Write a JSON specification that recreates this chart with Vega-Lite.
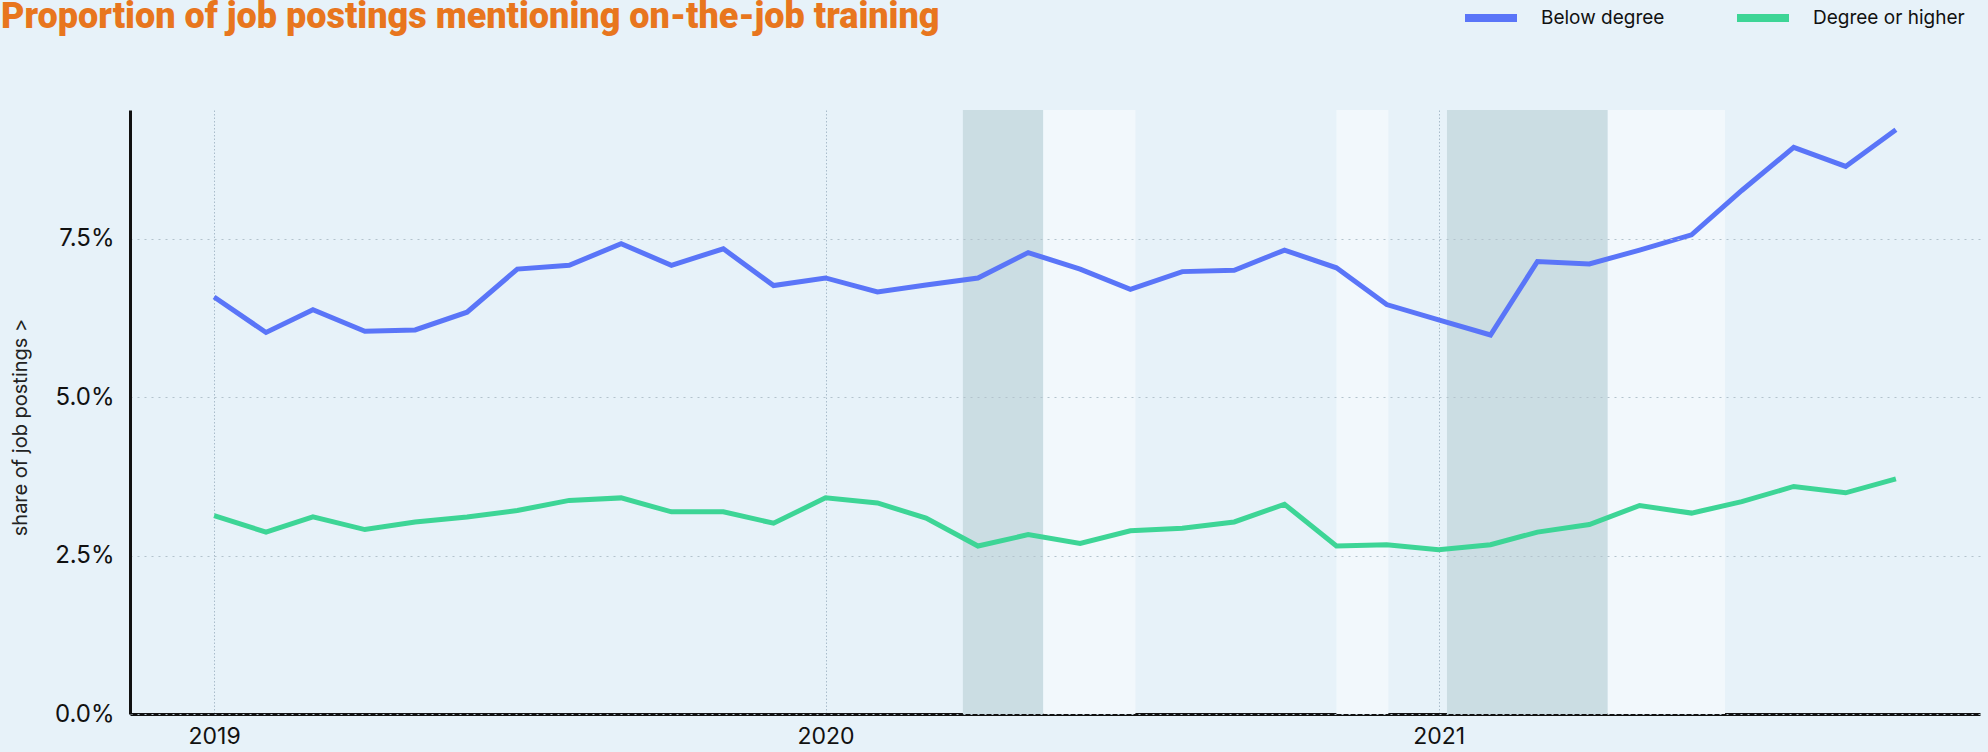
{
  "$schema": "https://vega.github.io/schema/vega-lite/v6.json",
  "width": 1850,
  "height": 604,
  "autosize": {"type": "none"},
  "padding": {"left": 130, "top": 110, "right": 8, "bottom": 38},
  "background": "#E7F2F9",
  "title": {
    "text": "Proportion of job postings mentioning on-the-job training",
    "anchor": "start",
    "frame": "group",
    "font": "Roboto",
    "fontWeight": 900,
    "fontSize": 36,
    "color": "#E8761E",
    "baseline": "alphabetic",
    "dx": -129,
    "offset": -76
  },
  "config": {
    "view": {"stroke": null},
    "font": "Inter"
  },
  "datasets": {
    "bands": [
      {"start": "2020-03-23T00:00:00", "end": "2020-05-10T00:00:00", "kind": "dark"},
      {"start": "2020-05-10T00:00:00", "end": "2020-07-04T00:00:00", "kind": "light"},
      {"start": "2020-11-01T00:00:00", "end": "2020-12-02T00:00:00", "kind": "light"},
      {"start": "2021-01-06T00:00:00", "end": "2021-04-12T00:00:00", "kind": "dark"},
      {"start": "2021-04-12T00:00:00", "end": "2021-06-21T00:00:00", "kind": "light"}
    ],
    "series": [
      {"date": "2019-01-01T00:00:00", "series": "Below degree", "value": 6.58},
      {"date": "2019-02-01T00:00:00", "series": "Below degree", "value": 6.02},
      {"date": "2019-03-01T00:00:00", "series": "Below degree", "value": 6.38},
      {"date": "2019-04-01T00:00:00", "series": "Below degree", "value": 6.04},
      {"date": "2019-05-01T00:00:00", "series": "Below degree", "value": 6.06},
      {"date": "2019-06-01T00:00:00", "series": "Below degree", "value": 6.34},
      {"date": "2019-07-01T00:00:00", "series": "Below degree", "value": 7.02},
      {"date": "2019-08-01T00:00:00", "series": "Below degree", "value": 7.08},
      {"date": "2019-09-01T00:00:00", "series": "Below degree", "value": 7.42},
      {"date": "2019-10-01T00:00:00", "series": "Below degree", "value": 7.08},
      {"date": "2019-11-01T00:00:00", "series": "Below degree", "value": 7.34},
      {"date": "2019-12-01T00:00:00", "series": "Below degree", "value": 6.76},
      {"date": "2020-01-01T00:00:00", "series": "Below degree", "value": 6.88},
      {"date": "2020-02-01T00:00:00", "series": "Below degree", "value": 6.66},
      {"date": "2020-03-01T00:00:00", "series": "Below degree", "value": 6.77},
      {"date": "2020-04-01T00:00:00", "series": "Below degree", "value": 6.88},
      {"date": "2020-05-01T00:00:00", "series": "Below degree", "value": 7.28},
      {"date": "2020-06-01T00:00:00", "series": "Below degree", "value": 7.02},
      {"date": "2020-07-01T00:00:00", "series": "Below degree", "value": 6.70},
      {"date": "2020-08-01T00:00:00", "series": "Below degree", "value": 6.98},
      {"date": "2020-09-01T00:00:00", "series": "Below degree", "value": 7.00},
      {"date": "2020-10-01T00:00:00", "series": "Below degree", "value": 7.32},
      {"date": "2020-11-01T00:00:00", "series": "Below degree", "value": 7.04},
      {"date": "2020-12-01T00:00:00", "series": "Below degree", "value": 6.46},
      {"date": "2021-01-01T00:00:00", "series": "Below degree", "value": 6.22},
      {"date": "2021-02-01T00:00:00", "series": "Below degree", "value": 5.98},
      {"date": "2021-03-01T00:00:00", "series": "Below degree", "value": 7.14},
      {"date": "2021-04-01T00:00:00", "series": "Below degree", "value": 7.10},
      {"date": "2021-05-01T00:00:00", "series": "Below degree", "value": 7.32},
      {"date": "2021-06-01T00:00:00", "series": "Below degree", "value": 7.56},
      {"date": "2021-07-01T00:00:00", "series": "Below degree", "value": 8.26},
      {"date": "2021-08-01T00:00:00", "series": "Below degree", "value": 8.94},
      {"date": "2021-09-01T00:00:00", "series": "Below degree", "value": 8.64},
      {"date": "2021-10-01T00:00:00", "series": "Below degree", "value": 9.22},
      {"date": "2019-01-01T00:00:00", "series": "Degree or higher", "value": 3.13},
      {"date": "2019-02-01T00:00:00", "series": "Degree or higher", "value": 2.87},
      {"date": "2019-03-01T00:00:00", "series": "Degree or higher", "value": 3.11},
      {"date": "2019-04-01T00:00:00", "series": "Degree or higher", "value": 2.91},
      {"date": "2019-05-01T00:00:00", "series": "Degree or higher", "value": 3.03},
      {"date": "2019-06-01T00:00:00", "series": "Degree or higher", "value": 3.11},
      {"date": "2019-07-01T00:00:00", "series": "Degree or higher", "value": 3.21},
      {"date": "2019-08-01T00:00:00", "series": "Degree or higher", "value": 3.37},
      {"date": "2019-09-01T00:00:00", "series": "Degree or higher", "value": 3.41},
      {"date": "2019-10-01T00:00:00", "series": "Degree or higher", "value": 3.19},
      {"date": "2019-11-01T00:00:00", "series": "Degree or higher", "value": 3.19},
      {"date": "2019-12-01T00:00:00", "series": "Degree or higher", "value": 3.01},
      {"date": "2020-01-01T00:00:00", "series": "Degree or higher", "value": 3.41},
      {"date": "2020-02-01T00:00:00", "series": "Degree or higher", "value": 3.33},
      {"date": "2020-03-01T00:00:00", "series": "Degree or higher", "value": 3.09},
      {"date": "2020-04-01T00:00:00", "series": "Degree or higher", "value": 2.65},
      {"date": "2020-05-01T00:00:00", "series": "Degree or higher", "value": 2.83},
      {"date": "2020-06-01T00:00:00", "series": "Degree or higher", "value": 2.69},
      {"date": "2020-07-01T00:00:00", "series": "Degree or higher", "value": 2.89},
      {"date": "2020-08-01T00:00:00", "series": "Degree or higher", "value": 2.93},
      {"date": "2020-09-01T00:00:00", "series": "Degree or higher", "value": 3.03},
      {"date": "2020-10-01T00:00:00", "series": "Degree or higher", "value": 3.31},
      {"date": "2020-11-01T00:00:00", "series": "Degree or higher", "value": 2.65},
      {"date": "2020-12-01T00:00:00", "series": "Degree or higher", "value": 2.67},
      {"date": "2021-01-01T00:00:00", "series": "Degree or higher", "value": 2.59},
      {"date": "2021-02-01T00:00:00", "series": "Degree or higher", "value": 2.67},
      {"date": "2021-03-01T00:00:00", "series": "Degree or higher", "value": 2.87},
      {"date": "2021-04-01T00:00:00", "series": "Degree or higher", "value": 2.99},
      {"date": "2021-05-01T00:00:00", "series": "Degree or higher", "value": 3.29},
      {"date": "2021-06-01T00:00:00", "series": "Degree or higher", "value": 3.17},
      {"date": "2021-07-01T00:00:00", "series": "Degree or higher", "value": 3.35},
      {"date": "2021-08-01T00:00:00", "series": "Degree or higher", "value": 3.59},
      {"date": "2021-09-01T00:00:00", "series": "Degree or higher", "value": 3.49},
      {"date": "2021-10-01T00:00:00", "series": "Degree or higher", "value": 3.71}
    ]
  },
  "layer": [
    {
      "data": {"name": "bands"},
      "transform": [{"filter": "datum.kind === 'dark'"}],
      "mark": {"type": "rect", "fill": "#CBDDE3"},
      "encoding": {
        "x": {"field": "start", "type": "temporal"},
        "x2": {"field": "end"}
      }
    },
    {
      "data": {"name": "bands"},
      "transform": [{"filter": "datum.kind === 'light'"}],
      "mark": {"type": "rect", "fill": "#F2F8FC"},
      "encoding": {
        "x": {"field": "start", "type": "temporal"},
        "x2": {"field": "end"}
      }
    },
    {
      "data": {"name": "series"},
      "mark": {"type": "line", "strokeWidth": 5},
      "encoding": {
        "x": {
          "field": "date",
          "type": "temporal",
          "title": null,
          "scale": {
            "domain": [
              {"year": 2018, "month": 11, "date": 11, "hours": 19},
              {"year": 2021, "month": 11, "date": 20, "hours": 5}
            ],
            "nice": false
          },
          "axis": {
            "values": [
              {"year": 2019, "month": 1, "date": 1},
              {"year": 2020, "month": 1, "date": 1},
              {"year": 2021, "month": 1, "date": 1}
            ],
            "format": "%Y",
            "ticks": false,
            "domainColor": "#111111",
            "domainWidth": 3,
            "grid": true,
            "gridColor": "#A9BCCB",
            "gridDash": [1.5, 2],
            "gridWidth": 1,
            "labelFont": "Inter",
            "labelFontSize": 23,
            "labelColor": "#111111",
            "labelPadding": 11,
            "labelFlush": false
          }
        },
        "y": {
          "field": "value",
          "type": "quantitative",
          "title": "share of job postings >",
          "scale": {"domain": [0, 9.53], "nice": false, "zero": true},
          "axis": {
            "values": [0, 2.5, 5, 7.5],
            "labelExpr": "format(datum.value, '.1f') + '%'",
            "ticks": false,
            "zindex": 1,
            "domainColor": "#111111",
            "domainWidth": 3,
            "grid": true,
            "gridColor": "#B3C3CC",
            "gridDash": [2, 5],
            "gridWidth": 1,
            "labelFont": "Inter",
            "labelFontSize": 24,
            "labelColor": "#111111",
            "labelPadding": 16,
            "titleFont": "Inter",
            "titleFontSize": 20,
            "titleFontWeight": "normal",
            "titleColor": "#222222",
            "titleAngle": -90,
            "titleX": -110,
            "titleY": 317,
            "titleAlign": "center",
            "titleBaseline": "middle"
          }
        },
        "color": {
          "field": "series",
          "type": "nominal",
          "scale": {
            "domain": ["Below degree", "Degree or higher"],
            "range": ["#5A75F8", "#3DD596"]
          },
          "legend": {
            "title": null,
            "orient": "none",
            "direction": "horizontal",
            "legendX": 1331,
            "legendY": -122,
            "padding": 0,
            "symbolType": "stroke",
            "symbolSize": 2704,
            "symbolStrokeWidth": 8,
            "labelFont": "Inter",
            "labelFontSize": 19,
            "labelColor": "#111111",
            "labelOffset": 20,
            "columnPadding": 56,
            "labelLimit": 300
          }
        }
      }
    }
  ]
}
